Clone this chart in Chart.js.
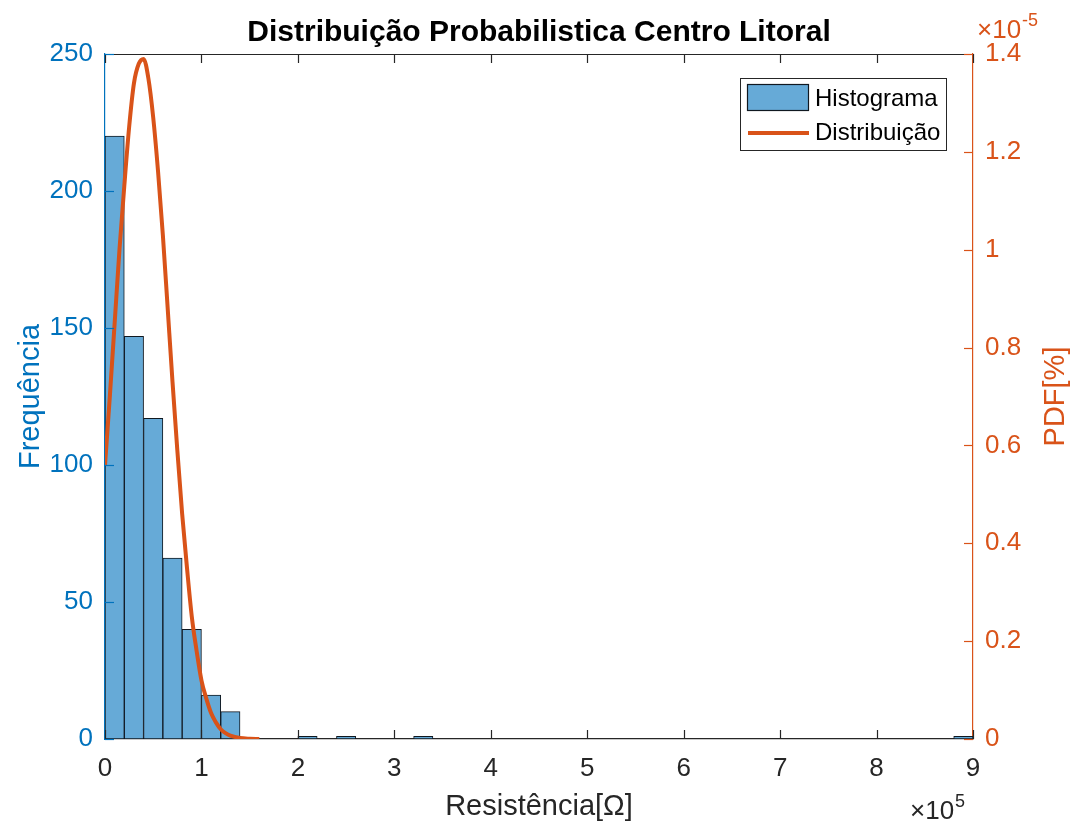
<!DOCTYPE html>
<html>
<head>
<meta charset="utf-8">
<title>Distribuição Probabilistica Centro Litoral</title>
<script src="https://cdn.jsdelivr.net/npm/chart.js@4.4.1/dist/chart.umd.min.js"></script>
<style>
  html, body { margin: 0; padding: 0; background: #fff; }
  #wrap { width: 1074px; height: 830px; position: relative; }
</style>
</head>
<body>
<div id="wrap"><canvas id="chart"></canvas></div>
<script>
// Histograma: contagens por classe de 20 kΩ, de 0 a 900 kΩ
const binWidth = 20000;
const counts = [
    220, 147, 117, 66, 40, 16, 10, 0, 0, 0,
    1, 0, 1, 0, 0, 0, 1, 0, 0, 0,
    0, 0, 0, 0, 0, 0, 0, 0, 0, 0,
    0, 0, 0, 0, 0, 0, 0, 0, 0, 0,
    0, 0, 0, 0, 1
];

// Distribuição ajustada: x em Ω, PDF em unidades de 1e-5
const pdfX = [
    0, 5000, 10000, 15000, 20000, 25000, 30000, 35000, 40000, 45000,
    50000, 55000, 60000, 65000, 70000, 75000, 80000, 85000, 90000, 95000,
    100000, 105000, 110000, 115000, 120000, 125000, 130000, 140000, 150000, 160000
];
const pdfY = [
    0.56, 0.70, 0.85, 1.00, 1.13, 1.25, 1.34, 1.38, 1.39, 1.35,
    1.27, 1.16, 1.03, 0.88, 0.73, 0.59, 0.46, 0.35, 0.25, 0.18,
    0.12, 0.083, 0.053, 0.034, 0.020, 0.012, 0.007, 0.002, 0.0005, 0.0001
];

// Marcas dos eixos
const xTicks = [0, 100000, 200000, 300000, 400000, 500000, 600000, 700000, 800000, 900000];
const xTickLabels = ['0', '1', '2', '3', '4', '5', '6', '7', '8', '9'];
const leftTicks = [0, 50, 100, 150, 200, 250];
const rightTicks = [0, 0.2, 0.4, 0.6, 0.8, 1, 1.2, 1.4];
const rightTickLabels = ['0', '0.2', '0.4', '0.6', '0.8', '1', '1.2', '1.4'];

const FONT = '"Liberation Sans", Arial, Helvetica, sans-serif';
const BLUE = '#0072BD';
const ORANGE = '#D95319';
const DARK = '#262626';
const BAR_FILL = 'rgb(102,170,215)';

function setTicks(values) {
    return function(scale) {
        scale.ticks = values.map(v => ({ value: v }));
    };
}

// escreve "×10" com o expoente logo à direita
function drawMultiplier(ctx, x, y, exp, color) {
    ctx.fillStyle = color;
    ctx.font = '26px ' + FONT;
    ctx.fillText('×10', x, y);
    const w = ctx.measureText('×10').width;
    ctx.font = '18px ' + FONT;
    ctx.fillText(exp, x + w + 1, y - 12);
}

// Textos, marcas internas e legenda no estilo do MATLAB
const decorPlugin = {
    id: 'decor',
    afterDraw(chart) {
        const ctx = chart.ctx;
        const a = chart.chartArea;
        const sx = chart.scales.x, sl = chart.scales.y, sr = chart.scales.y2;
        const tick = 9;

        ctx.save();

        // borda superior da caixa
        ctx.strokeStyle = DARK;
        ctx.lineWidth = 1.2;
        ctx.beginPath();
        ctx.moveTo(a.left, a.top + 0.5);
        ctx.lineTo(a.right, a.top + 0.5);
        ctx.stroke();

        // marcas em x (em baixo e em cima)
        xTicks.forEach(v => {
            const px = Math.round(sx.getPixelForValue(v)) + 0.5;
            ctx.beginPath();
            ctx.moveTo(px, a.bottom);
            ctx.lineTo(px, a.bottom - tick);
            ctx.moveTo(px, a.top);
            ctx.lineTo(px, a.top + tick);
            ctx.stroke();
        });

        // marcas do eixo esquerdo
        ctx.strokeStyle = BLUE;
        leftTicks.forEach(v => {
            const py = Math.round(sl.getPixelForValue(v)) + 0.5;
            ctx.beginPath();
            ctx.moveTo(a.left, py);
            ctx.lineTo(a.left + tick, py);
            ctx.stroke();
        });

        // marcas do eixo direito
        ctx.strokeStyle = ORANGE;
        rightTicks.forEach(v => {
            const py = Math.round(sr.getPixelForValue(v)) + 0.5;
            ctx.beginPath();
            ctx.moveTo(a.right, py);
            ctx.lineTo(a.right - tick, py);
            ctx.stroke();
        });

        // título
        ctx.fillStyle = '#000';
        ctx.font = 'bold 30px ' + FONT;
        ctx.textAlign = 'center';
        ctx.textBaseline = 'alphabetic';
        ctx.fillText('Distribuição Probabilistica Centro Litoral', (a.left + a.right) / 2, 41);

        // rótulo do eixo x
        ctx.fillStyle = DARK;
        ctx.font = '29px ' + FONT;
        ctx.fillText('Resistência[Ω]', (a.left + a.right) / 2, 815);

        // rótulo do eixo esquerdo
        ctx.save();
        ctx.translate(39, (a.top + a.bottom) / 2);
        ctx.rotate(-Math.PI / 2);
        ctx.fillStyle = BLUE;
        ctx.fillText('Frequência', 0, 0);
        ctx.restore();

        // rótulo do eixo direito
        ctx.save();
        ctx.translate(1064, (a.top + a.bottom) / 2);
        ctx.rotate(-Math.PI / 2);
        ctx.fillStyle = ORANGE;
        ctx.fillText('PDF[%]', 0, 0);
        ctx.restore();

        // multiplicadores dos eixos
        ctx.textAlign = 'left';
        drawMultiplier(ctx, 910, 819, '5', DARK);
        drawMultiplier(ctx, 977, 38, '-5', ORANGE);

        // legenda
        const lx = a.right - 233, ly = a.top + 24, lw = 206, lh = 72;
        ctx.fillStyle = '#fff';
        ctx.fillRect(lx, ly, lw, lh);
        ctx.strokeStyle = DARK;
        ctx.lineWidth = 1;
        ctx.strokeRect(lx + 0.5, ly + 0.5, lw, lh);

        ctx.fillStyle = BAR_FILL;
        ctx.fillRect(lx + 7, ly + 6, 62, 27);
        ctx.strokeStyle = '#101820';
        ctx.lineWidth = 1.2;
        ctx.strokeRect(lx + 7.5, ly + 6.5, 61, 26);

        ctx.strokeStyle = ORANGE;
        ctx.lineWidth = 4;
        ctx.beginPath();
        ctx.moveTo(lx + 8, ly + 55);
        ctx.lineTo(lx + 69, ly + 55);
        ctx.stroke();

        ctx.fillStyle = '#000';
        ctx.font = '24px ' + FONT;
        ctx.textBaseline = 'middle';
        ctx.fillText('Histograma', lx + 75, ly + 21);
        ctx.fillText('Distribuição', lx + 75, ly + 55);

        ctx.restore();
    }
};

const histData = counts.map((c, i) => ({ x: (i + 0.5) * binWidth, y: c }));
const pdfData = pdfX.map((x, i) => ({ x: x, y: pdfY[i] }));

new Chart(document.getElementById('chart'), {
    type: 'bar',
    data: {
        datasets: [{
            type: 'line',
            label: 'Distribuição',
            data: pdfData,
            yAxisID: 'y2',
            borderColor: ORANGE,
            borderWidth: 4,
            pointRadius: 0,
            cubicInterpolationMode: 'monotone',
            order: 0
        }, {
            type: 'bar',
            label: 'Histograma',
            data: histData,
            yAxisID: 'y',
            backgroundColor: BAR_FILL,
            borderColor: '#101820',
            borderWidth: 1,
            borderSkipped: false,
            barPercentage: 1,
            categoryPercentage: 1,
            order: 1
        }]
    },
    options: {
        responsive: true,
        maintainAspectRatio: false,
        animation: false,
        layout: { padding: { top: 54, left: 0, right: 0, bottom: 0 } },
        plugins: {
            legend: { display: false },
            tooltip: { enabled: false }
        },
        scales: {
            x: {
                type: 'linear',
                position: 'bottom',
                offset: false,
                min: 0,
                max: 900000,
                afterBuildTicks: setTicks(xTicks),
                afterFit(scale) { scale.height = 91; },
                ticks: {
                    autoSkip: false,
                    maxRotation: 0,
                    padding: 14,
                    color: DARK,
                    font: { family: FONT, size: 26 },
                    callback: (v) => xTickLabels[xTicks.indexOf(v)]
                },
                grid: { display: false, drawTicks: false },
                border: { display: true, color: DARK, width: 1.2 }
            },
            y: {
                position: 'left',
                min: 0,
                max: 250,
                afterBuildTicks: setTicks(leftTicks),
                afterFit(scale) { scale.width = 105; },
                ticks: {
                    padding: 12,
                    color: BLUE,
                    font: { family: FONT, size: 26 }
                },
                grid: { display: false, drawTicks: false },
                border: { display: true, color: BLUE, width: 1.2 }
            },
            y2: {
                position: 'right',
                min: 0,
                max: 1.4,
                afterBuildTicks: setTicks(rightTicks),
                afterFit(scale) { scale.width = 101; },
                ticks: {
                    padding: 12,
                    color: ORANGE,
                    font: { family: FONT, size: 26 },
                    callback: (v) => rightTickLabels[rightTicks.indexOf(v)]
                },
                grid: { display: false, drawTicks: false },
                border: { display: true, color: ORANGE, width: 1.2 }
            }
        }
    },
    plugins: [decorPlugin]
});
</script>
</body>
</html>
